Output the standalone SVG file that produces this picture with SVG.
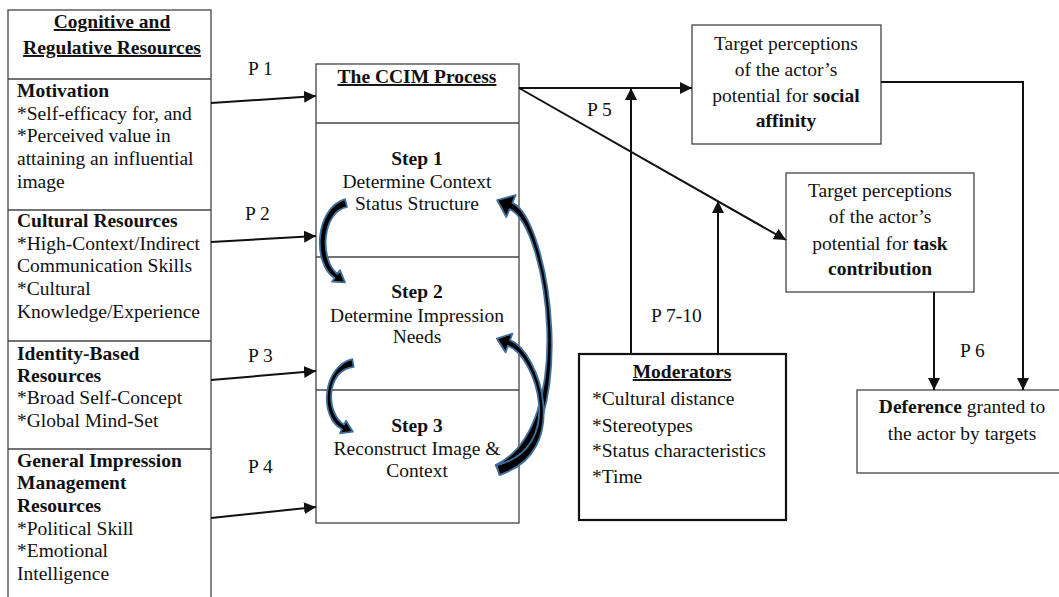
<svg xmlns="http://www.w3.org/2000/svg" width="1059" height="597" viewBox="0 0 1059 597">
<style>
text{font-family:"Liberation Serif","Times New Roman",serif;font-size:19.5px;fill:#111}
.b{font-weight:bold}
.u{text-decoration:underline}
.m{text-anchor:middle}
.box{fill:#fff;stroke:#444;stroke-width:1.3}
.div{stroke:#444;stroke-width:1.3}
.con{fill:none;stroke:#111;stroke-width:2}
.curve{fill:#000;stroke:#41709c;stroke-width:1.8;stroke-linejoin:round}
</style>
<defs>
<marker id="ah" viewBox="0 0 10 10" refX="10" refY="5" markerWidth="6" markerHeight="6" orient="auto" markerUnits="strokeWidth">
<path d="M0,0 L10,5 L0,10 Z" fill="#111"/>
</marker>
</defs>
<rect width="1059" height="597" fill="#fff"/>

<g id="resources">
<rect class="box" x="8" y="10" width="203" height="600"/>
<line class="div" x1="8" y1="79" x2="211" y2="79"/>
<line class="div" x1="8" y1="210" x2="211" y2="210"/>
<line class="div" x1="8" y1="341" x2="211" y2="341"/>
<line class="div" x1="8" y1="449" x2="211" y2="449"/>
<text class="b u m" x="112" y="28">Cognitive and</text>
<text class="b u m" x="112" y="54">Regulative Resources</text>
<text x="17" y="97" class="b">Motivation</text>
<text x="17" y="120">*Self-efficacy for, and</text>
<text x="17" y="142">*Perceived value in</text>
<text x="17" y="165">attaining an influential</text>
<text x="17" y="188">image</text>
<text x="17" y="227" class="b">Cultural Resources</text>
<text x="17" y="250">*High-Context/Indirect</text>
<text x="17" y="272">Communication Skills</text>
<text x="17" y="295">*Cultural</text>
<text x="17" y="318">Knowledge/Experience</text>
<text x="17" y="360" class="b">Identity-Based</text>
<text x="17" y="382" class="b">Resources</text>
<text x="17" y="404">*Broad Self-Concept</text>
<text x="17" y="427">*Global Mind-Set</text>
<text x="17" y="467" class="b">General Impression</text>
<text x="17" y="489" class="b">Management</text>
<text x="17" y="512" class="b">Resources</text>
<text x="17" y="535">*Political Skill</text>
<text x="17" y="557">*Emotional</text>
<text x="17" y="580">Intelligence</text>
</g>

<g id="ccim">
<rect class="box" x="316" y="64" width="203" height="459"/>
<line class="div" x1="316" y1="123" x2="519" y2="123"/>
<line class="div" x1="316" y1="257" x2="519" y2="257"/>
<line class="div" x1="316" y1="390" x2="519" y2="390"/>
<text class="b u m" x="417" y="83">The CCIM Process</text>
<text class="b m" x="417" y="165">Step 1</text>
<text class="m" x="417" y="188">Determine Context</text>
<text class="m" x="417" y="210">Status Structure</text>
<text class="b m" x="417" y="298">Step 2</text>
<text class="m" x="417" y="322">Determine Impression</text>
<text class="m" x="417" y="343">Needs</text>
<text class="b m" x="417" y="432">Step 3</text>
<text class="m" x="417" y="455">Reconstruct Image &amp;</text>
<text class="m" x="417" y="477">Context</text>
</g>

<g id="social">
<rect class="box" x="692" y="25" width="189" height="119"/>
<text class="m" x="786" y="50">Target perceptions</text>
<text class="m" x="786" y="76">of the actor’s</text>
<text class="m" x="786" y="102">potential for <tspan class="b">social</tspan></text>
<text class="m b" x="786" y="127">affinity</text>
</g>

<g id="task">
<rect class="box" x="786" y="173" width="188" height="119"/>
<text class="m" x="880" y="197">Target perceptions</text>
<text class="m" x="880" y="223">of the actor’s</text>
<text class="m" x="880" y="250">potential for <tspan class="b">task</tspan></text>
<text class="m b" x="880" y="275">contribution</text>
</g>

<g id="moderators">
<rect x="579" y="354" width="207" height="166" fill="#fff" stroke="#111" stroke-width="2.2"/>
<text class="b u m" x="682" y="378">Moderators</text>
<text x="592" y="405">*Cultural distance</text>
<text x="592" y="432">*Stereotypes</text>
<text x="592" y="457">*Status characteristics</text>
<text x="592" y="483">*Time</text>
</g>

<g id="deference">
<rect class="box" x="857" y="390" width="205" height="83"/>
<text class="m" x="962" y="413"><tspan class="b">Deference</tspan> granted to</text>
<text class="m" x="962" y="440">the actor by targets</text>
</g>

<g id="connectors">
<line class="con" x1="211" y1="103" x2="316" y2="96" marker-end="url(#ah)"/>
<line class="con" x1="211" y1="242" x2="316" y2="236" marker-end="url(#ah)"/>
<line class="con" x1="211" y1="380" x2="316" y2="371" marker-end="url(#ah)"/>
<line class="con" x1="211" y1="518" x2="316" y2="507" marker-end="url(#ah)"/>
<line class="con" x1="519" y1="88" x2="692" y2="88" marker-end="url(#ah)"/>
<line class="con" x1="519" y1="88" x2="786" y2="240" marker-end="url(#ah)"/>
<line class="con" x1="631" y1="354" x2="631" y2="88" marker-end="url(#ah)"/>
<line class="con" x1="718" y1="354" x2="718" y2="201" marker-end="url(#ah)"/>
<polyline class="con" points="881,82 1023,82 1023,390" marker-end="url(#ah)"/>
<line class="con" x1="934" y1="292" x2="934" y2="390" marker-end="url(#ah)"/>
<path class="curve" d="M345,199.1 C314.5,208.5 312.5,264 334.6,278.1 L332,281.7 L345,282.3 L340,270.3 L337.4,273.9 C319.5,260.5 321.5,212 347,206.9 Z"/>
<path class="curve" d="M352.3,359.1 C322.5,366.5 318.5,417 341.9,429.3 L340,433.3 L352.9,431.7 L346,420.7 L344.1,424.7 C325.5,413.5 325.5,370 353.7,366.9 Z"/>
<path class="curve" d="M500.4,474.9 C583.1,433.9 549.6,218.4 512.4,202.8 L515.7,195 L497.2,200.2 L506.3,217 L509.6,209.2 C546.8,224.7 577.2,426.5 495.6,465.1 Z"/>
<path class="curve" d="M499.3,474.8 C573.2,452.3 538.9,350.7 510,340.2 L512.4,333.6 L496.8,338.6 L505.6,352.4 L508,345.8 C535.1,355.3 566.8,447.7 496.7,465.2 Z"/>
<text x="248" y="75">P 1</text>
<text x="245" y="220">P 2</text>
<text x="248" y="362">P 3</text>
<text x="248" y="473">P 4</text>
<text x="587" y="116">P 5</text>
<text x="651" y="322">P 7-10</text>
<text x="960" y="357">P 6</text>
</g>
</svg>
